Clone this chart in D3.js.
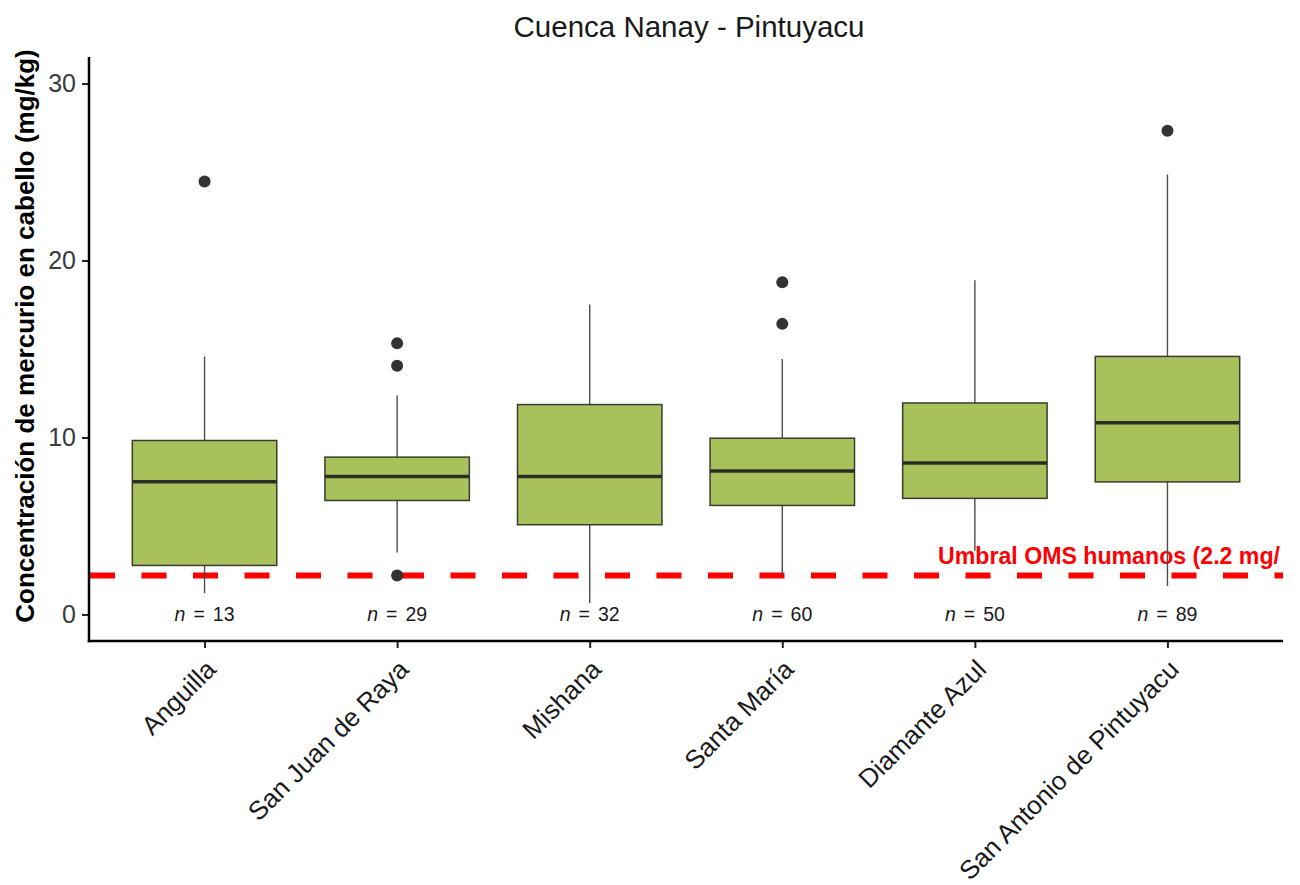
<!DOCTYPE html>
<html>
<head>
<meta charset="utf-8">
<script src="https://cdn.jsdelivr.net/npm/d3@7"></script>
<style>
  html, body { margin: 0; padding: 0; background: #ffffff; }
  svg { display: block; font-family: "Liberation Sans", Arial, Helvetica, sans-serif; }
</style>
</head>
<body>
<svg id="chart" width="1300" height="885"></svg>
<script>
// Hair mercury concentration by community (mg/kg), Nanay - Pintuyacu basin
const communities = ["Anguilla", "San Juan de Raya", "Mishana", "Santa María", "Diamante Azul", "San Antonio de Pintuyacu"];
const whiskerLow  = [1.2, 3.5, 0.65, 2.2, 3.6, 1.6];
const q1          = [2.77, 6.44, 5.07, 6.16, 6.56, 7.49];
const medians     = [7.5, 7.8, 7.8, 8.1, 8.56, 10.83];
const q3          = [9.83, 8.89, 11.86, 9.96, 11.95, 14.58];
const whiskerHigh = [14.58, 12.37, 17.51, 14.44, 18.89, 24.86];
const outliers    = [[24.46], [15.33, 14.05, 2.2], [], [18.77, 16.42], [], [27.33]];
const sampleSizes = [13, 29, 32, 60, 50, 89];
const yTicks      = [0, 10, 20, 30];
const threshold   = 2.2;
const thresholdLabel = "Umbral OMS humanos (2.2 mg/";

const svg = d3.select("#chart");
const panel = { left: 89, right: 1283, top: 57, bottom: 641 };

// Discrete axis with 0.6 unit expansion on each side
const x = d3.scalePoint()
  .domain(communities)
  .range([panel.left, panel.right])
  .padding(0.6);
const step = x.step();
const boxWidth = 0.75 * step;

const y = d3.scaleLinear()
  .domain([-1.5, 31.5])
  .range([panel.bottom, panel.top]);

const rows = communities.map((c, i) => ({
  name: c, lo: whiskerLow[i], q1: q1[i], med: medians[i], q3: q3[i], hi: whiskerHigh[i],
  out: outliers[i], n: sampleSizes[i]
}));

const plot = svg.append("g");

// Reference threshold
plot.append("line")
  .attr("x1", panel.left + 1).attr("x2", panel.right)
  .attr("y1", y(threshold)).attr("y2", y(threshold))
  .attr("stroke", "#ff0000")
  .attr("stroke-width", 6)
  .attr("stroke-dasharray", "25 26.5");

plot.append("text")
  .attr("x", 938)
  .attr("y", y(threshold) - 12)
  .attr("fill", "#ff0000")
  .attr("font-weight", "bold")
  .attr("font-size", 24.5)
  .attr("textLength", 342)
  .attr("lengthAdjust", "spacingAndGlyphs")
  .text(thresholdLabel);

// Boxplots
const boxes = plot.selectAll("g.box").data(rows).join("g").attr("class", "box");

boxes.append("line")
  .attr("x1", d => x(d.name)).attr("x2", d => x(d.name))
  .attr("y1", d => y(d.q3)).attr("y2", d => y(d.hi))
  .attr("stroke", "#4d4d4d").attr("stroke-width", 1.4);

boxes.append("line")
  .attr("x1", d => x(d.name)).attr("x2", d => x(d.name))
  .attr("y1", d => y(d.q1)).attr("y2", d => y(d.lo))
  .attr("stroke", "#4d4d4d").attr("stroke-width", 1.4);

boxes.append("rect")
  .attr("x", d => x(d.name) - boxWidth / 2)
  .attr("width", boxWidth)
  .attr("y", d => y(d.q3))
  .attr("height", d => y(d.q1) - y(d.q3))
  .attr("fill", "#a9c15a")
  .attr("stroke", "#3a3d2e")
  .attr("stroke-width", 1.5);

boxes.append("line")
  .attr("x1", d => x(d.name) - boxWidth / 2).attr("x2", d => x(d.name) + boxWidth / 2)
  .attr("y1", d => y(d.med)).attr("y2", d => y(d.med))
  .attr("stroke", "#2b2e24").attr("stroke-width", 3.5);

boxes.selectAll("circle")
  .data(d => d.out.map(v => ({ name: d.name, v })))
  .join("circle")
  .attr("cx", d => x(d.name))
  .attr("cy", d => y(d.v))
  .attr("r", 6)
  .attr("fill", "#333333");

// Sample size labels at y = 0
const nLabels = plot.selectAll("text.n").data(rows).join("text")
  .attr("class", "n")
  .attr("x", d => x(d.name))
  .attr("y", y(0))
  .attr("dy", "0.35em")
  .attr("text-anchor", "middle")
  .attr("font-size", 19.5)
  .attr("fill", "#1a1a1a");
nLabels.append("tspan").attr("font-style", "italic").text("n");
nLabels.append("tspan").attr("dx", 8).text("=");
nLabels.append("tspan").attr("dx", 8).text(d => d.n);

// Axes
const yAxis = d3.axisLeft(y).tickValues(yTicks).tickSize(7).tickPadding(6);
const gy = svg.append("g").attr("transform", `translate(${panel.left},0)`).call(yAxis);
gy.select(".domain").remove();
gy.selectAll(".tick line").attr("stroke", "#222").attr("stroke-width", 2);
gy.selectAll(".tick text")
  .attr("font-size", 25)
  .attr("fill", "#3a3a3a")
  .attr("font-family", "Liberation Sans, Arial, sans-serif");

const xAxis = d3.axisBottom(x).tickSize(7).tickFormat("");
const gx = svg.append("g").attr("transform", `translate(0,${panel.bottom})`).call(xAxis);
gx.select(".domain").remove();
gx.selectAll(".tick line").attr("stroke", "#222").attr("stroke-width", 2);

// Rotated category labels
svg.append("g").selectAll("text").data(communities).join("text")
  .attr("transform", d => `translate(${x(d) + 13},${panel.bottom + 30}) rotate(-45)`)
  .attr("text-anchor", "end")
  .attr("font-size", 26)
  .attr("fill", "#1a1a1a")
  .text(d => d);

// Axis lines
svg.append("line")
  .attr("x1", panel.left).attr("x2", panel.left)
  .attr("y1", panel.top).attr("y2", panel.bottom + 1.25)
  .attr("stroke", "#000").attr("stroke-width", 2.5);
svg.append("line")
  .attr("x1", panel.left - 1.25).attr("x2", panel.right)
  .attr("y1", panel.bottom).attr("y2", panel.bottom)
  .attr("stroke", "#000").attr("stroke-width", 2.5);

// Axis title
svg.append("text")
  .attr("transform", `translate(34,${(panel.top + panel.bottom) / 2 - 13}) rotate(-90)`)
  .attr("text-anchor", "middle")
  .attr("font-weight", "bold")
  .attr("font-size", 26)
  .attr("fill", "#000")
  .text("Concentración de mercurio en cabello (mg/kg)");

// Title
svg.append("text")
  .attr("x", 689)
  .attr("y", 37)
  .attr("text-anchor", "middle")
  .attr("font-size", 29.5)
  .attr("fill", "#1a1a1a")
  .text("Cuenca Nanay - Pintuyacu");
</script>
</body>
</html>
